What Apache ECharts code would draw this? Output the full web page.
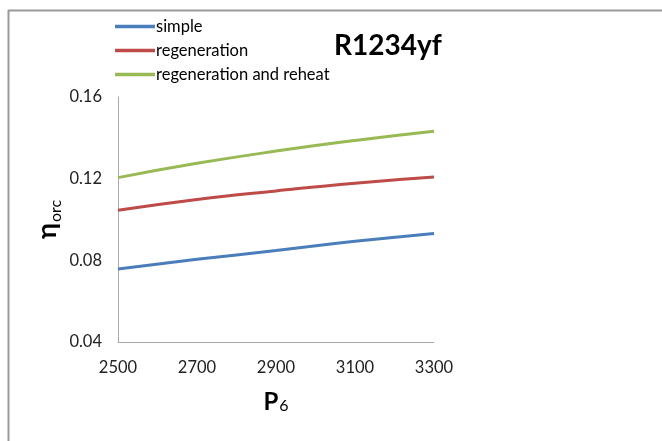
<!DOCTYPE html>
<html>
<head>
<meta charset="utf-8">
<script src="https://cdn.jsdelivr.net/npm/echarts@6/dist/echarts.min.js"></script>
<style>
  html, body { margin: 0; padding: 0; background: #fff; }
  #chart { width: 662px; height: 441px; }
</style>
</head>
<body>
<div id="chart"></div>
<script>
// Pressure P6 values along the x axis
const pressures = [2500, 2700, 2900, 3100, 3300];
// Cycle efficiencies for each configuration
const simple = [0.0758, 0.0805, 0.0848, 0.0893, 0.0932];
const regeneration = [0.1045, 0.1098, 0.1140, 0.1178, 0.1208];
const regenReheat = [0.1205, 0.1275, 0.1335, 0.1387, 0.1432];
const seriesNames = ['simple', 'regeneration', 'regeneration and reheat'];
const seriesColors = ['#4a7ebb', '#be4b48', '#98b954'];

const FONT = 'Lato';
const pairs = arr => pressures.map((p, i) => [p, arr[i]]);

const chart = echarts.init(document.getElementById('chart'), null, { renderer: 'canvas' });
chart.setOption({
  animation: false,
  backgroundColor: '#fff',
  textStyle: { fontFamily: FONT },
  title: {
    text: 'R1234yf',
    left: 329,
    top: 27,
    textStyle: { fontFamily: FONT, fontSize: 28, fontWeight: 'bold', color: '#000' }
  },
  legend: {
    orient: 'vertical',
    left: 110,
    top: 13,
    itemWidth: 40,
    itemHeight: 3.5,
    itemGap: 7,
    icon: 'rect',
    data: seriesNames,
    textStyle: { fontFamily: FONT, fontSize: 16.5, color: '#000', padding: [0, 0, 0, -4], lineHeight: 16 }
  },
  grid: { left: 118, right: 228, top: 97, bottom: 99, containLabel: false },
  xAxis: {
    type: 'value',
    min: 2500, max: 3300, interval: 200,
    name: '{p|P}{s|6}',
    nameLocation: 'middle',
    nameGap: 48,
    nameTextStyle: {
      rich: {
        p: { fontFamily: FONT, fontSize: 24, fontWeight: 'bold', color: '#000', verticalAlign: 'bottom' },
        s: { fontFamily: FONT, fontSize: 16, color: '#000', verticalAlign: 'bottom', padding: [0, 0, 0, 1] }
      }
    },
    axisLine: { lineStyle: { color: '#aaaaaa', width: 1 } },
    axisTick: { show: false },
    splitLine: { show: false },
    axisLabel: { fontFamily: FONT, fontSize: 16.5, color: '#222', margin: 17, formatter: v => String(v) }
  },
  yAxis: {
    type: 'value',
    min: 0.04, max: 0.16, interval: 0.04,
    name: '{e|η}{s|orc}',
    nameLocation: 'middle',
    nameRotate: 90,
    nameGap: 57,
    nameTextStyle: {
      rich: {
        e: { fontFamily: FONT, fontSize: 27, fontWeight: 'bold', color: '#000', verticalAlign: 'bottom' },
        s: { fontFamily: FONT, fontSize: 16, color: '#000', verticalAlign: 'bottom', padding: [0, 0, -3, 1] }
      }
    },
    axisLine: { show: true, lineStyle: { color: '#aaaaaa', width: 1 } },
    axisTick: { show: false },
    splitLine: { show: false },
    axisLabel: {
      fontFamily: FONT, fontSize: 16.5, color: '#222', margin: 16,
      formatter: v => v.toFixed(2)
    }
  },
  series: [simple, regeneration, regenReheat].map((arr, i) => ({
    name: seriesNames[i],
    type: 'line',
    data: pairs(arr),
    smooth: true,
    showSymbol: false,
    symbol: 'none',
    color: seriesColors[i],
    lineStyle: { width: 3, color: seriesColors[i] }
  })),
  graphic: [
    { type: 'line', shape: { x1: 8, y1: 10.5, x2: 662, y2: 10.5 }, style: { stroke: '#999', lineWidth: 2 } },
    { type: 'line', shape: { x1: 8.5, y1: 10, x2: 8.5, y2: 441 }, style: { stroke: '#999', lineWidth: 2 } }
  ]
});
</script>
</body>
</html>
